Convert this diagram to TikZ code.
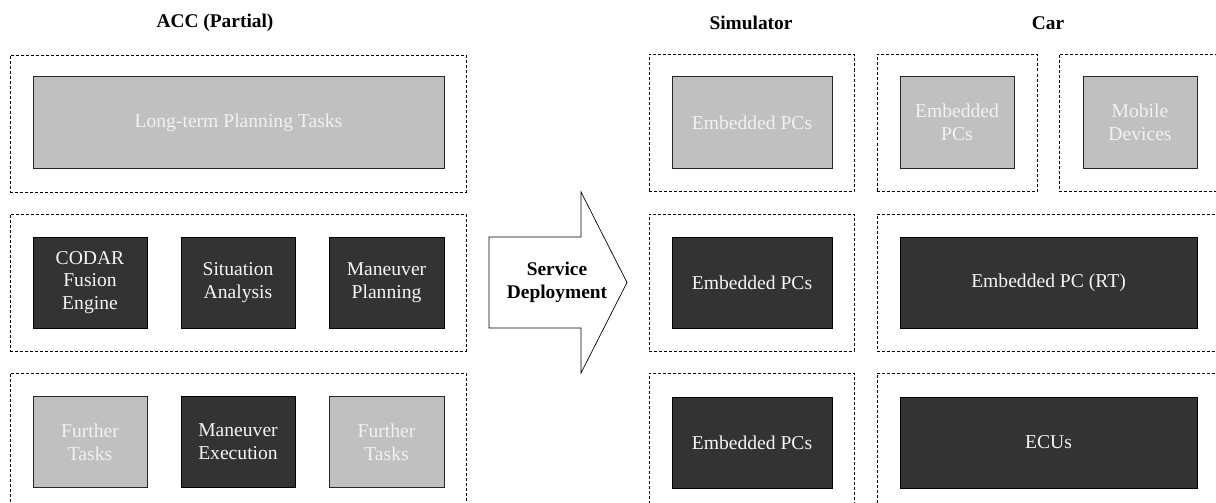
\documentclass[tikz,border=0pt]{standalone}
\usepackage{fontspec}
\setmainfont{Liberation Serif}
\definecolor{lightfill}{HTML}{C0C0C0}
\definecolor{darkfill}{HTML}{333333}
\definecolor{lighttext}{HTML}{F2F2F2}
\definecolor{darktext}{HTML}{F5F5F5}
\begin{document}
\begin{tikzpicture}[x=1pt,y=-1pt,
  every node/.style={font=\fontsize{19.6}{22.8}\selectfont, inner sep=0pt, outer sep=0pt},
  groupbox/.style={draw=black, line width=0.7pt, dash pattern=on 3pt off 2pt, rectangle},
  lightbox/.style={draw=black!85, line width=1pt, fill=lightfill, text=lighttext, align=center, rectangle},
  darkbox/.style={draw=black, line width=1pt, fill=darkfill, text=darktext, align=center, rectangle},
  titletext/.style={font=\fontsize{19.4}{22.8}\selectfont\bfseries, align=center}
]
\clip (0,0) rectangle (1216,503);
\fill[white] (0,0) rectangle (1216,503);

% titles
\node[titletext] (tacc) at (215,23) {ACC (Partial)};
\node[titletext] (tsim) at (751,23) {Simulator};
\node[titletext] (tcar) at (1048,23) {Car};

% left column groups
\node[groupbox, minimum width=456, minimum height=137] (g1) at (238,123.5) {};
\node[groupbox, minimum width=456, minimum height=137] (g2) at (238,282.5) {};
\node[groupbox, minimum width=456, minimum height=137] (g3) at (238,441.5) {};

\node[lightbox, minimum width=411, minimum height=91] (lt) at (238.5,122.5) {Long-term Planning Tasks};

\node[darkbox, minimum width=114, minimum height=91] (codar) at (90,282.5) {CODAR\\Fusion\\Engine};
\node[darkbox, minimum width=114, minimum height=91] (sit) at (238,282.5) {Situation\\Analysis};
\node[darkbox, minimum width=115, minimum height=91] (man) at (386.5,282.5) {Maneuver\\Planning};

\node[lightbox, minimum width=114, minimum height=91] (ft1) at (90,442) {Further\\Tasks};
\node[darkbox, minimum width=114, minimum height=91] (mex) at (238,442) {Maneuver\\Execution};
\node[lightbox, minimum width=115, minimum height=91] (ft2) at (386.5,442) {Further\\Tasks};

% arrow
\draw[line width=0.7pt, fill=white] (489,237) -- (581,237) -- (581,192) -- (627,282.5) -- (581,373) -- (581,328) -- (489,328) -- cycle;
\node[titletext] (sd) at (557,282.5) {Service\\Deployment};

% simulator column
\node[groupbox, minimum width=205, minimum height=137] (s1) at (751.5,123) {};
\node[groupbox, minimum width=205, minimum height=137] (s2) at (751.5,282.5) {};
\node[groupbox, minimum width=205, minimum height=137] (s3) at (751.5,441.5) {};
\node[lightbox, minimum width=160, minimum height=91] (se1) at (752,122.5) {Embedded PCs};
\node[darkbox, minimum width=160, minimum height=91] (se2) at (752,282.5) {Embedded PCs};
\node[darkbox, minimum width=160, minimum height=91] (se3) at (752,442.5) {Embedded PCs};

% car column
\node[groupbox, minimum width=160, minimum height=137] (c1a) at (957,123) {};
\node[groupbox, minimum width=161, minimum height=137] (c1b) at (1139.5,123) {};
\node[groupbox, minimum width=343, minimum height=137] (c2) at (1048.5,282.5) {};
\node[groupbox, minimum width=343, minimum height=137] (c3) at (1048.5,441.5) {};
\node[lightbox, minimum width=114, minimum height=91] (ce1) at (957,122.5) {Embedded\\PCs};
\node[lightbox, minimum width=114, minimum height=91] (cmd) at (1140,122.5) {Mobile\\Devices};
\node[darkbox, minimum width=297, minimum height=91] (crt) at (1048.5,282.5) {Embedded PC (RT)};
\node[darkbox, minimum width=297, minimum height=91] (cecu) at (1048.5,442.5) {ECUs};
\end{tikzpicture}
\end{document}
